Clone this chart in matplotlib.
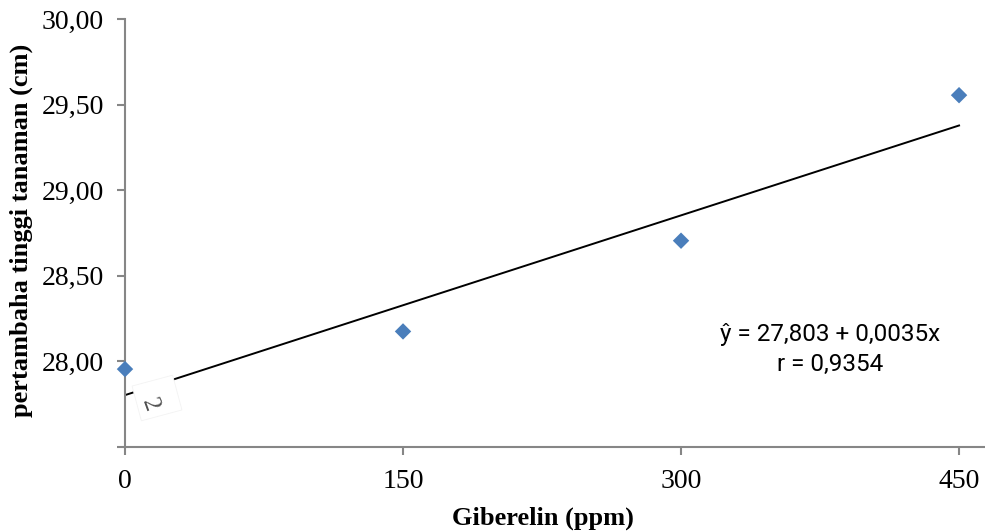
import matplotlib
matplotlib.use("Agg")
import numpy as np
import matplotlib.pyplot as plt
from matplotlib.patches import Rectangle
import matplotlib.transforms as mtransforms

# data
giberelin = [0, 150, 300, 450]
tinggi = [27.955, 28.175, 28.705, 29.555]
intercept = 27.803
slope = 0.0035
x_ticks = [0, 150, 300, 450]
y_ticks = [28.0, 28.5, 29.0, 29.5, 30.0]
y_ticklabels = ["28,00", "28,50", "29,00", "29,50", "30,00"]

serif = ["Liberation Serif", "DejaVu Serif"]
narrow = ["Liberation Sans Narrow", "Roboto", "DejaVu Sans"]
axis_grey = "#868686"

W, H = 985, 532
fig = plt.figure(figsize=(W / 100, H / 100), dpi=100)
ax = fig.add_axes([125 / W, 1 - 447 / H, 1 - 125 / W, (447 - 19) / H])

line_x = np.array([giberelin[0], giberelin[-1]])
ax.plot(line_x, intercept + slope * line_x, color="black", lw=1.4, zorder=2)
ax.scatter(giberelin, tinggi, marker="D", s=70, color="#4a7ebb",
           edgecolor="none", zorder=3, clip_on=False)

# scanned artefact near the origin (pixel coords -> inches)
cx, cy = 157 / 100, (H - 398) / 100
box = Rectangle((cx - 0.21, cy - 0.18), 0.42, 0.36, facecolor="white",
                edgecolor="#f3f3f3", lw=0.6, zorder=2.5,
                transform=mtransforms.Affine2D().rotate_deg_around(cx, cy, 15)
                + fig.dpi_scale_trans)
ax.add_artist(box)
fig.text(150 / W, 1 - 405 / H, "2", rotation=-70, fontsize=18, color="#505050",
         family=serif, ha="center", va="center", zorder=3)

ax.set_xlim(0, 464)
ax.set_ylim(27.5, 30.0)
ax.set_xticks(x_ticks)
ax.set_xticklabels([str(v) for v in x_ticks], fontsize=20, family=serif)
ax.set_yticks([27.5] + y_ticks)
ax.set_yticklabels([""] + y_ticklabels, fontsize=20, family=serif)

for side in ("top", "right"):
    ax.spines[side].set_visible(False)
for side in ("left", "bottom"):
    ax.spines[side].set_color(axis_grey)
    ax.spines[side].set_linewidth(1.5)
ax.tick_params(axis="both", colors=axis_grey, length=6, width=1.5,
               labelcolor="black", direction="out")
ax.tick_params(axis="x", pad=10)
ax.tick_params(axis="y", pad=9)

ax.set_xlabel("Giberelin (ppm)", fontsize=19, fontweight="bold", family=serif,
              labelpad=9)
ax.xaxis.label.set_x(0.486)
ax.set_ylabel("pertambaha tinggi tanaman (cm)", fontsize=19, fontweight="bold",
              family=serif, labelpad=6)
ax.yaxis.label.set_y(0.505)

ax.text(0.82, 0.228, "ŷ = 27,803 + 0,0035x\nr = 0,9354", transform=ax.transAxes,
        ha="center", va="center", fontsize=17.5, family=narrow, linespacing=1.4)

fig.savefig("out.png", dpi=100)
